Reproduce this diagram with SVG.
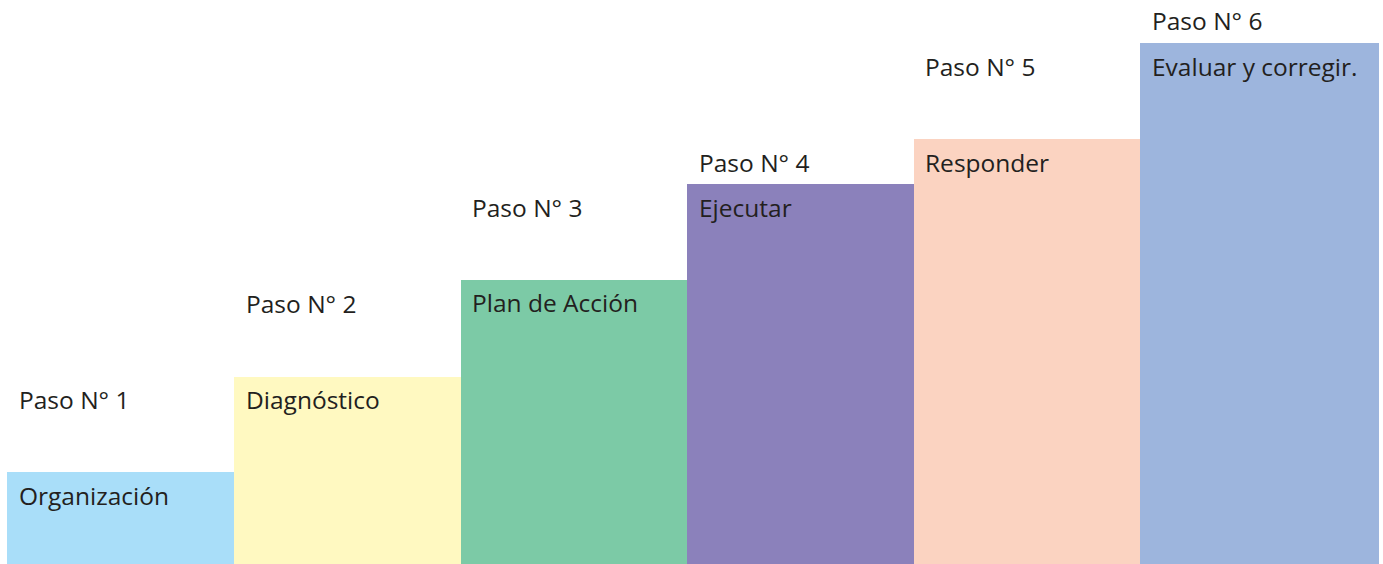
<svg xmlns="http://www.w3.org/2000/svg" width="1383" height="564" viewBox="0 0 1383 564">
<style>
text{font-family:"Open Sans","Noto Sans",sans-serif;font-size:24.5px;fill:#231f20}
</style>
<rect width="1383" height="564" fill="#ffffff"/>
<g id="step1"><rect x="7" y="472" width="227" height="92" fill="#a9def9"/><text x="19" y="409">Paso N° 1</text><text x="19" y="505">Organización</text></g>
<g id="step2"><rect x="234" y="377" width="227" height="187" fill="#fff9c1"/><text x="246" y="313">Paso N° 2</text><text x="246" y="409">Diagnóstico</text></g>
<g id="step3"><rect x="461" y="280" width="227" height="284" fill="#7ccaa6"/><text x="472" y="217">Paso N° 3</text><text x="472" y="312">Plan de Acción</text></g>
<g id="step4"><rect x="687" y="184" width="227" height="380" fill="#8b81bb"/><text x="699" y="172">Paso N° 4</text><text x="699" y="217">Ejecutar</text></g>
<g id="step5"><rect x="914" y="139" width="227" height="425" fill="#fbd3c1"/><text x="925" y="76">Paso N° 5</text><text x="925" y="172">Responder</text></g>
<g id="step6"><rect x="1140" y="43" width="239" height="521" fill="#9db5dd"/><text x="1152" y="30">Paso N° 6</text><text x="1152" y="76">Evaluar y corregir.</text></g>
<g id="connectors"/>
</svg>
